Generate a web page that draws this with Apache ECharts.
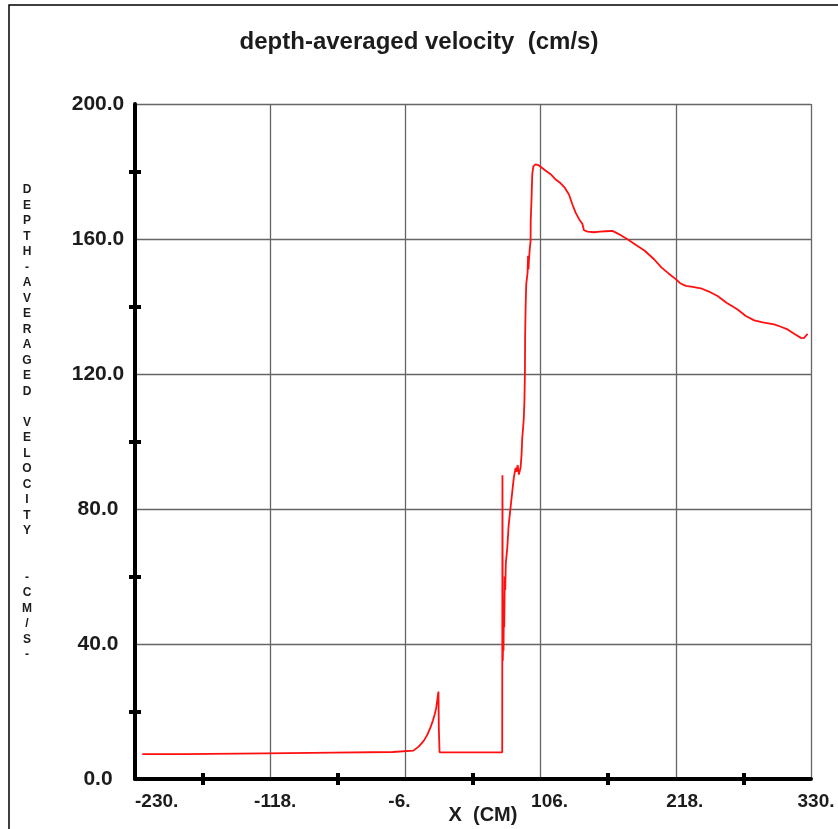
<!DOCTYPE html>
<html>
<head>
<meta charset="utf-8">
<script src="https://cdn.jsdelivr.net/npm/echarts@6/dist/echarts.min.js"></script>
<style>
  html, body { margin: 0; padding: 0; background: #ffffff; }
  #chart { width: 838px; height: 829px; }
</style>
</head>
<body>
<div id="chart"></div>
<script>
// Position along the channel (cm)
const xPos = [
  -224, -190.5, -190, -122.5, -122, -66, -65.5, -16.5, -16, 0.6,
  5, 9.2, 12, 14.7, 16.8, 18.3, 19.5, 20.3, 21.0, 21.4,
  21.7, 22.2, 22.3, 74.2,
  74.4, 74.7, 75.0, 75.3, 75.6, 75.9, 76.3, 76.7, 77.2, 78.4,
  79.5, 81.1, 82.5, 83.8, 85.3, 86.0, 87.0, 88.0, 89.4, 90.2,
  90.8, 91.5, 92.1, 92.6, 93.0, 93.2, 93.6, 94.1, 95.2, 95.6,
  96.0, 96.3, 97.0, 97.7, 97.8, 98.5, 99.1, 100.0, 101.8, 104,
  106.0, 110, 114.3, 118, 122.6, 126, 129.5, 132.3, 135.0, 138,
  140.6, 141.9, 145, 150.2, 155, 160, 165.5, 170, 178.0, 185,
  192, 200.0, 206, 212, 218.0, 222, 226.3, 232, 238.7, 245,
  252.6, 260, 269.2, 276, 283.0, 290, 299.5, 305, 310.6, 316,
  321.7, 324, 327.2
];
// Depth-averaged velocity (cm/s)
const velocity = [
  7.4, 7.4, 7.6, 7.6, 7.8, 7.8, 8.0, 8.0, 8.3, 8.4,
  9.6, 11.3, 13.0, 15.2, 17.3, 19.2, 21.0, 23.1, 25.0, 25.9,
  15.0, 14.5, 7.9, 7.9,
  90.0, 35, 44, 38, 52, 45, 60, 56, 64, 68.5,
  75, 80.4, 85, 89.3, 92.2, 91, 93, 90.2, 92.2, 96,
  101.1, 104, 107.1, 112, 119.9, 131.8, 140, 146.6, 150, 155,
  151, 153.5, 157, 159.4, 165.3, 172, 179.2, 181.5, 182.1, 181.9,
  181.4, 180.3, 179.2, 177.8, 176.5, 175.2, 173.2, 170.3, 167.8, 165.8,
  164.5, 162.6, 162.2, 162.0, 162.2, 162.3, 162.4, 161.6, 159.9, 158.2,
  156.6, 154.0, 151.6, 149.8, 148.1, 146.8, 146.1, 145.8, 145.4, 144.5,
  143.1, 141.1, 139.1, 137.2, 135.9, 135.3, 134.7, 134.0, 133.2, 131.9,
  130.7, 130.6, 131.9
];

// Axis ranges and tick labels
const xMin = -230, xMax = 330, xStep = 112;
const yMin = 0, yMax = 200, yStep = 40;
const xTickValues = [-230, -118, -6, 106, 218, 330];
const xTickLabels = ['-230.', '-118.', '-6.', '106.', '218.', '330.'];
const yTickValues = [0, 40, 80, 120, 160, 200];
const yTickLabels = ['0.0', '40.0', '80.0', '120.0', '160.0', '200.0'];

const titleText = 'depth-averaged velocity  (cm/s)';
const xAxisTitle = 'X  (CM)';
const yAxisTitle = 'DEPTH-AVERAGED VELOCITY  -CM/S-';

const seriesData = xPos.map((x, i) => [x, velocity[i]]);

const FONT = '"Liberation Sans", Arial, Helvetica, sans-serif';
const INK = '#1c1c1c';

// small per-label nudges so the x labels sit like the plotter output
const xLabelStyle = { '-118': 'r5', '-6': 'l6', '106': 'r9', '218': 'r9', '330': 'r5' };

const chart = echarts.init(document.getElementById('chart'), null, { renderer: 'canvas' });

const xText = { fontFamily: FONT, fontWeight: 'bold', color: INK, fontSize: 19 };
const yText = { fontFamily: FONT, fontWeight: 'bold', color: INK, fontSize: 21 };
const tickMark = { show: true, splitNumber: 2, length: 6, lineStyle: { color: '#000', width: 4 } };
const gridLine = { show: true, lineStyle: { color: '#656565', width: 1.3 } };

chart.setOption({
  backgroundColor: '#ffffff',
  animation: false,
  title: {
    text: titleText,
    left: 'center',
    top: 25,
    textStyle: { fontFamily: FONT, fontWeight: 'bold', fontSize: 24, color: INK }
  },
  grid: { left: 135, right: 27, top: 104, bottom: 50 },
  xAxis: [
    {
      type: 'value', position: 'bottom',
      min: xMin, max: xMax, interval: xStep,
      axisLine: { show: true, onZero: false, lineStyle: { color: '#000', width: 4 } },
      axisTick: { show: false },
      minorTick: tickMark,
      splitLine: gridLine,
      axisLabel: {
        show: true, margin: 13,
        alignMinLabel: 'left',
        formatter: v => {
          const idx = xTickValues.indexOf(Math.round(v));
          const txt = idx >= 0 ? xTickLabels[idx] : String(v);
          const st = xLabelStyle[String(Math.round(v))];
          return st ? '{' + st + '|' + txt + '}' : txt;
        },
        ...xText,
        rich: {
          r5: { ...xText, padding: [0, 0, 0, 10] },
          r9: { ...xText, padding: [0, 0, 0, 18] },
          l6: { ...xText, padding: [0, 12, 0, 0] }
        }
      }
    },
    {
      // tick marks on the inner side of the bottom axis
      type: 'value', position: 'bottom',
      min: xMin, max: xMax, interval: xStep,
      axisLine: { show: false, onZero: false },
      axisTick: { show: false, inside: true },
      minorTick: tickMark,
      splitLine: { show: false },
      axisLabel: { show: false }
    }
  ],
  yAxis: [
    {
      type: 'value', position: 'left',
      min: yMin, max: yMax, interval: yStep,
      axisLine: { show: true, onZero: false, lineStyle: { color: '#000', width: 4 } },
      axisTick: { show: false },
      minorTick: tickMark,
      splitLine: gridLine,
      axisLabel: {
        show: true, margin: 37, align: 'center',
        formatter: v => {
          const idx = yTickValues.indexOf(Math.round(v));
          return idx >= 0 ? yTickLabels[idx] : String(v);
        },
        ...yText
      }
    },
    {
      // tick marks on the inner side of the left axis
      type: 'value', position: 'left',
      min: yMin, max: yMax, interval: yStep,
      axisLine: { show: false, onZero: false },
      axisTick: { show: false, inside: true },
      minorTick: tickMark,
      splitLine: { show: false },
      axisLabel: { show: false }
    }
  ],
  series: [
    {
      type: 'line',
      xAxisIndex: 0, yAxisIndex: 0,
      data: seriesData,
      showSymbol: false,
      symbol: 'none',
      lineStyle: { color: '#ff1010', width: 1.8 },
      z: 5
    }
  ],
  graphic: [
    {
      // page frame
      type: 'polyline',
      shape: { points: [[9, 829], [9, 5], [838, 5]] },
      style: { stroke: '#000', lineWidth: 1.5, fill: null },
      silent: true
    },
    {
      type: 'text',
      x: 483, y: 815,
      style: {
        text: xAxisTitle, fontFamily: FONT, fontWeight: 'bold', fontSize: 20,
        fill: INK, align: 'center', verticalAlign: 'middle'
      }
    },
    {
      type: 'text',
      x: 27, y: 182,
      style: {
        text: yAxisTitle.split('').join('\n'),
        fontFamily: FONT, fontWeight: 'bold', fontSize: 12, lineHeight: 15.5,
        fill: INK, align: 'center', verticalAlign: 'top'
      }
    }
  ]
});
</script>
</body>
</html>
